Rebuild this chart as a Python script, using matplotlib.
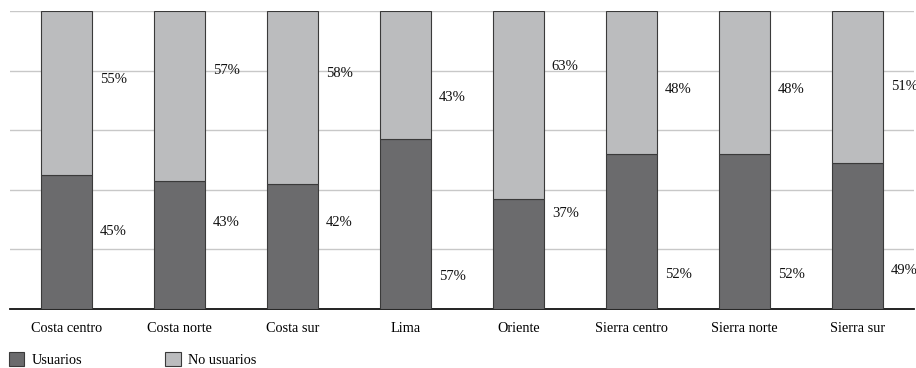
import matplotlib
matplotlib.use("Agg")
import matplotlib.pyplot as plt
from matplotlib.patches import Patch

categories = ["Costa centro", "Costa norte", "Costa sur", "Lima", "Oriente",
              "Sierra centro", "Sierra norte", "Sierra sur"]
usuarios = [45, 43, 42, 57, 37, 52, 52, 49]
no_usuarios = [55, 57, 58, 43, 63, 48, 48, 51]

# vertical placement of the percentage labels (in axis percent units)
usuarios_label_y = [26, 29, 29, 11, 32, 11.5, 11.5, 13]
no_usuarios_label_y = [77, 80, 79, 71, 81.5, 73.5, 73.5, 74.5]

dark = "#6b6b6d"
light = "#bbbcbe"
edge = "#3a3a3a"

plt.rcParams["font.family"] = ["Liberation Serif", "DejaVu Serif"]

fig = plt.figure(figsize=(9.16, 3.68), dpi=100)
ax = fig.add_axes([10 / 916, 1 - 309 / 368, 904 / 916, 298 / 368])

x = list(range(len(categories)))
width = 0.45
ax.bar(x, usuarios, width=width, color=dark, edgecolor=edge, linewidth=0.8, zorder=3)
ax.bar(x, no_usuarios, width=width, bottom=usuarios, color=light, edgecolor=edge,
       linewidth=0.8, zorder=3)

for i in x:
    ax.text(i + width / 2 + 0.07, usuarios_label_y[i], f"{usuarios[i]}%",
            ha="left", va="center", fontsize=10.5, color="#111111", zorder=4)
    ax.text(i + width / 2 + 0.07, no_usuarios_label_y[i], f"{no_usuarios[i]}%",
            ha="left", va="center", fontsize=10.5, color="#111111", zorder=4)

ax.set_xlim(-0.5, len(categories) - 0.5)
ax.set_ylim(0, 100)
ax.set_yticks([20, 40, 60, 80, 100])
ax.yaxis.grid(True, color="#c8c8c8", linewidth=1.0, zorder=0)
ax.tick_params(axis="y", left=False, labelleft=False)
ax.tick_params(axis="x", bottom=False, pad=6, labelsize=10.3)
ax.set_xticks(x)
ax.set_xticklabels(categories)
for s in ["left", "right", "top"]:
    ax.spines[s].set_visible(False)
ax.spines["bottom"].set_color("#111111")
ax.spines["bottom"].set_linewidth(1.3)

handles = [Patch(facecolor=dark, edgecolor=edge, linewidth=0.8, label="Usuarios"),
           Patch(facecolor=light, edgecolor=edge, linewidth=0.8, label="No usuarios")]
fig.legend(handles=handles, loc="lower left", bbox_to_anchor=(0.0, -0.02), ncol=2,
           frameon=False, fontsize=10.3, handlelength=1.1, handleheight=1.1,
           handletextpad=0.5, columnspacing=5.8, borderaxespad=0.2)

fig.savefig("out.png", dpi=100)
